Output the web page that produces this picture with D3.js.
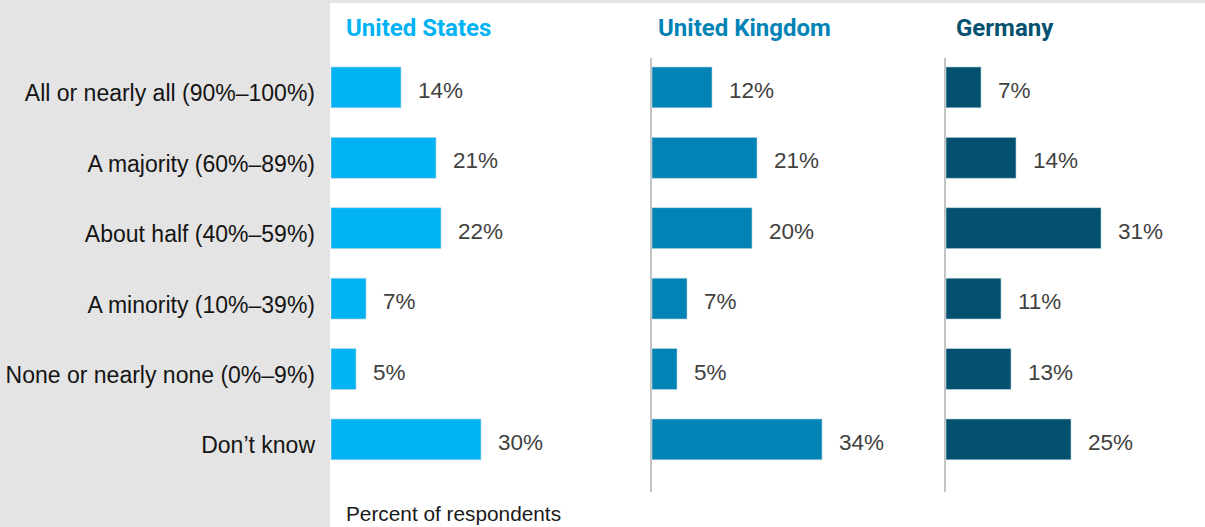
<!DOCTYPE html>
<html>
<head>
<meta charset="utf-8">
<script src="https://cdn.jsdelivr.net/npm/d3@7"></script>
<style>
  html, body { margin: 0; padding: 0; background: #fff; }
  svg { display: block; }
</style>
</head>
<body>
<svg id="chart" width="1205" height="527"></svg>
<script>
// Share of respondents, by answer, for three countries
const categories = [
  "All or nearly all (90%–100%)",
  "A majority (60%–89%)",
  "About half (40%–59%)",
  "A minority (10%–39%)",
  "None or nearly none (0%–9%)",
  "Don’t know"
];
const countries = ["United States", "United Kingdom", "Germany"];
const usValues = [14, 21, 22, 7, 5, 30];
const ukValues = [12, 21, 20, 7, 5, 34];
const deValues = [7, 14, 31, 11, 13, 25];
const countryColors = ["#02b3f4", "#0283b6", "#03506f"];
const axisNote = "Percent of respondents";

const seriesValues = [usValues, ukValues, deValues];

const W = 1205, H = 527;
const svg = d3.select("#chart");

// Grey label column and thin top strip
svg.append("rect").attr("x", 0).attr("y", 0).attr("width", 330).attr("height", H).attr("fill", "#e4e4e4");
svg.append("rect").attr("x", 330).attr("y", 0).attr("width", W - 330).attr("height", 3).attr("fill", "#e4e4e4");

const y = d3.scaleBand()
  .domain(categories)
  .range([52.2, 474.6])
  .paddingInner(0.42)
  .paddingOuter(0.21);

// Row labels
svg.append("g").selectAll("text")
  .data(categories)
  .join("text")
  .attr("x", 315)
  .attr("y", d => y(d) + y.bandwidth() / 2 + 14)
  .attr("text-anchor", "end")
  .attr("font-family", "Liberation Sans, Arial, sans-serif")
  .attr("font-size", 23)
  .attr("fill", "#141414")
  .text(d => d);

const panelX = [331, 652, 946];
const titleX = [346, 658, 956];

countries.forEach((country, i) => {
  const x = d3.scaleLinear().domain([0, 40]).range([panelX[i], panelX[i] + 200]);
  const g = svg.append("g");

  if (i > 0) {
    g.append("line")
      .attr("x1", panelX[i] - 1).attr("x2", panelX[i] - 1)
      .attr("y1", 58).attr("y2", 492)
      .attr("stroke", "#c3c3c3").attr("stroke-width", 2);
  }

  g.append("text")
    .attr("x", titleX[i])
    .attr("y", 36)
    .attr("font-family", "Liberation Sans Narrow, Roboto, sans-serif")
    .attr("font-weight", "bold")
    .attr("font-size", 24)
    .attr("fill", countryColors[i])
    .text(country);

  const rows = categories.map((c, k) => ({ c, v: seriesValues[i][k] }));

  g.selectAll("rect.bar")
    .data(rows)
    .join("rect")
    .attr("class", "bar")
    .attr("x", x(0))
    .attr("y", d => y(d.c))
    .attr("width", d => x(d.v) - x(0))
    .attr("height", y.bandwidth())
    .attr("fill", countryColors[i])
    .attr("stroke", "#bcd4e0")
    .attr("stroke-width", 0.6);

  g.selectAll("text.val")
    .data(rows)
    .join("text")
    .attr("class", "val")
    .attr("x", d => x(d.v) + 17)
    .attr("y", d => y(d.c) + y.bandwidth() / 2 + 10.5)
    .attr("font-family", "Liberation Sans, Arial, sans-serif")
    .attr("font-size", 22.5)
    .attr("fill", "#414141")
    .text(d => d.v + "%");
});

svg.append("text")
  .attr("x", 346)
  .attr("y", 521)
  .attr("font-family", "Liberation Sans, Arial, sans-serif")
  .attr("font-size", 20.8)
  .attr("fill", "#1a1a1a")
  .text(axisNote);
</script>
</body>
</html>
